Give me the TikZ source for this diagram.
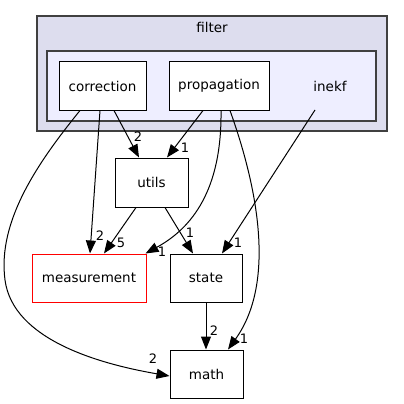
\documentclass[tikz,border=0pt]{standalone}
\usepackage{fontspec}
\setmainfont{DejaVu Sans}
\usetikzlibrary{arrows.meta}
\definecolor{outerfill}{HTML}{DDDDEE}
\definecolor{innerfill}{HTML}{EEEEFF}
\definecolor{clusterline}{HTML}{404040}
\begin{document}
\begin{tikzpicture}[x=1pt,y=-1pt,
  dirbox/.style={draw=black,fill=white,line width=1pt,rectangle,inner sep=0pt,minimum height=48pt,font=\fontsize{13.5}{15}\selectfont},
  cluster/.style={draw=clusterline,line width=1.5pt,rectangle,inner sep=0pt},
  dep/.style={-{Triangle[length=13pt,width=10pt]},line width=1pt},
  lbl/.style={font=\fontsize{13}{15}\selectfont,inner sep=0pt}]
\useasboundingbox (0,0) rectangle (404,404);
\node[cluster,fill=outerfill,minimum width=350pt,minimum height=115pt] (filter) at (212,73.5) {};
\node[font=\fontsize{13.5}{15}\selectfont] (filterlbl) at (212,27) {filter};
\node[cluster,fill=innerfill,minimum width=329pt,minimum height=70pt] (inekf) at (211.5,86) {};
\node[font=\fontsize{13.5}{15}\selectfont] (inekflbl) at (330,86) {inekf};
\node[dirbox,minimum width=87pt] (correction) at (102.5,86) {correction};
\node[dirbox,minimum width=100pt] (propagation) at (219,86) {propagation};
\node[dirbox,minimum width=73pt,minimum height=49pt] (utils) at (151.5,182.5) {utils};
\node[dirbox,draw=red,minimum width=114pt] (measurement) at (89,278) {measurement};
\node[dirbox,minimum width=72pt] (state) at (206,278) {state};
\node[dirbox,minimum width=73pt] (math) at (206.5,374) {math};
\coordinate (inekfout) at (315,110);

\draw[dep] ([xshift=11.5pt]correction.south) -- ([xshift=-12.5pt]utils.north);
\node[lbl] at (138,137) {2};
\draw[dep] ([xshift=-16pt]propagation.south) -- ([xshift=15.5pt]utils.north);
\node[lbl] at (185,148) {1};
\draw[dep] ([xshift=-2.5pt]correction.south) -- ([xshift=1pt]measurement.north);
\node[lbl] at (100,236) {2};
\draw[dep] ([xshift=-15.5pt]utils.south) -- ([xshift=15pt]measurement.north);
\node[lbl] at (121,243) {5};
\draw[dep] ([xshift=2pt]propagation.south) .. controls (222,190) and (192,228) .. ([xshift=-1pt]measurement.north east);
\node[lbl] at (162,252) {1};
\draw[dep] ([xshift=13.5pt]utils.south) -- ([xshift=-13pt]state.north);
\node[lbl] at (190,233) {1};
\draw[dep] (inekfout) -- ([xshift=16pt]state.north);
\node[lbl] at (238,243) {1};
\draw[dep] ([xshift=-22.5pt]correction.south) .. controls (40,160) and (-3,220) .. (5,280) .. controls (13,340) and (100,364) .. ([yshift=-2pt]math.west);
\node[lbl] at (153,359) {2};
\draw[dep] (state.south) -- ([xshift=-0.5pt]math.north);
\node[lbl] at (214,331) {2};
\draw[dep] ([xshift=11pt]propagation.south) .. controls (255,180) and (278,280) .. ([xshift=21.5pt]math.north);
\node[lbl] at (244,339) {1};
\end{tikzpicture}
\end{document}
